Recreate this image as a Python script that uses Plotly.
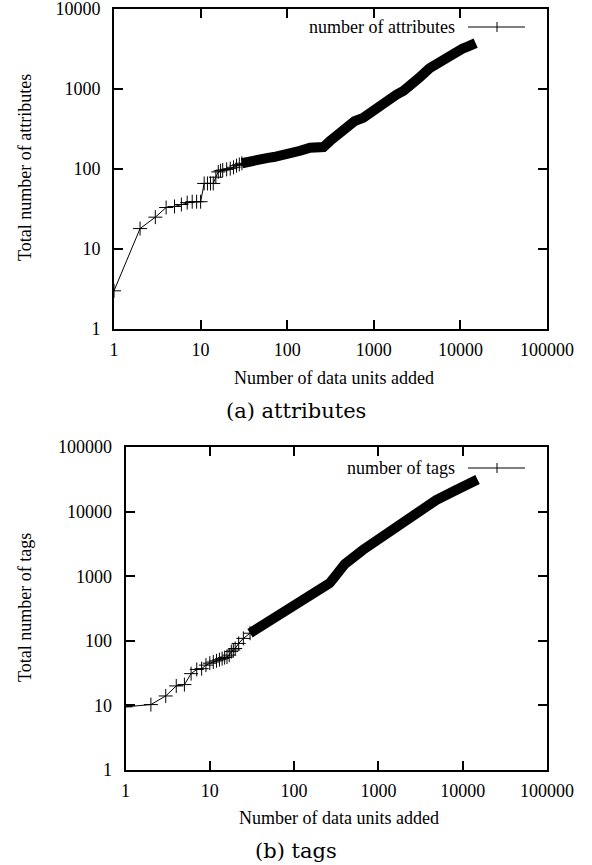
import plotly.graph_objects as go

# ---- data ----
attr_x = [1, 2, 3, 4, 5, 6, 7, 8, 9, 10, 11, 12, 13, 14, 15, 16, 17, 18, 20, 22, 24, 26, 28,
          30, 35, 40, 50, 60, 70, 83, 100, 141, 184, 262, 312, 400, 485, 600, 754, 950, 1172,
          1500, 1823, 2200, 2593, 3300, 4400, 5500, 6840, 8500, 10630, 12500, 14500, 15000]
attr_y = [3, 18, 25, 33, 34, 36, 38, 39, 39, 39, 66, 66, 66, 66, 79, 92, 95, 97, 99, 101, 105, 110, 114,
          118, 124, 130, 135, 138, 141, 146, 157, 169, 185, 188, 224, 284, 344, 397, 436, 528, 637,
          750, 848, 950, 1077, 1364, 1815, 2135, 2535, 2840, 3213, 3430, 3700, 3750]

tags_x = [1, 2, 3, 4, 5, 6, 7, 8, 9, 10, 11, 12, 13, 14, 15, 16, 17, 18, 19, 20, 22, 25,
          30, 40, 50, 67, 116, 200, 263, 300, 346, 400, 653, 1031, 2137, 2806, 4850, 8370, 13800, 15000]
tags_y = [9.5, 10.3, 14, 20, 21, 31, 36, 37, 42, 45, 47, 49, 51, 53, 55, 56, 60, 68, 72, 76, 91, 109,
          131, 165, 205, 266, 428, 649, 776, 960, 1280, 1545, 2545, 3864, 7200, 9500, 15100, 21600, 30800, 31500]

x_ticks = [1, 10, 100, 1000, 10000, 100000]
x_tick_text = ["1", "10", "100", "1000", "10000", "100000"]
attr_y_ticks = [1, 10, 100, 1000, 10000]
attr_y_text = ["1", "10", "100", "1000", "10000"]
tags_y_ticks = [1, 10, 100, 1000, 10000, 100000]
tags_y_text = ["1", "10", "100", "1000", "10000", "100000"]

attr_legend = "number of attributes"
tags_legend = "number of tags"
x_title = "Number of data units added"
attr_y_title = "Total number of attributes"
tags_y_title = "Total number of tags"
cap_a = "(a) attributes"
cap_b = "(b) tags"
dense_from = 30   # beyond this the markers merge into a solid band

W, H = 592, 865
SERIF = "Liberation Serif"
FONT = dict(family=SERIF, size=18, color="black")


def px(v):
    return v / W


def py(v):
    return 1 - v / H


fig = go.Figure()


def add_series(xs, ys, xa, ya):
    sx = [a for a in xs if a <= dense_from]
    sy = [b for a, b in zip(xs, ys) if a <= dense_from]
    fig.add_trace(go.Scatter(
        x=sx, y=sy, xaxis=xa, yaxis=ya, mode="lines+markers",
        line=dict(color="black", width=1),
        marker=dict(symbol="cross-thin", size=10, color="black",
                    line=dict(color="black", width=1)),
        showlegend=False, hoverinfo="x+y"))
    dx = [a for a in xs if a >= dense_from]
    dy = [b for a, b in zip(xs, ys) if a >= dense_from]
    fig.add_trace(go.Scatter(
        x=dx, y=dy, xaxis=xa, yaxis=ya, mode="lines",
        line=dict(color="black", width=10),
        showlegend=False, hoverinfo="x+y"))


add_series(attr_x, attr_y, "x", "y")
add_series(tags_x, tags_y, "x2", "y2")

axis_common = dict(type="log", showgrid=False, zeroline=False, showline=True,
                   linecolor="black", linewidth=2, mirror="ticks", ticks="inside",
                   ticklen=9, tickwidth=1.5, tickcolor="black", tickfont=FONT,
                   tickmode="array", automargin=False, fixedrange=True,
                   ticklabeloverflow="allow")

fig.update_layout(
    width=W, height=H, margin=dict(l=0, r=0, t=0, b=0, autoexpand=False),
    paper_bgcolor="white", plot_bgcolor="white",
    xaxis=dict(axis_common, domain=[px(114), px(547)], range=[0, 5], ticklabelstandoff=3,
               tickvals=x_ticks, ticktext=x_tick_text, anchor="y"),
    yaxis=dict(axis_common, domain=[py(329), py(9)], range=[0, 4], ticklabelstandoff=8,
               tickvals=attr_y_ticks, ticktext=attr_y_text, anchor="x"),
    xaxis2=dict(axis_common, domain=[px(125.5), px(547)], range=[0, 5], ticklabelstandoff=3,
                tickvals=x_ticks, ticktext=x_tick_text, anchor="y2"),
    yaxis2=dict(axis_common, domain=[py(770), py(447)], range=[0, 5], ticklabelstandoff=8,
                tickvals=tags_y_ticks, ticktext=tags_y_text, anchor="x2"),
)

ann = []
# axis titles
ann.append(dict(text=x_title, x=px((114 + 547) / 2 + 3), y=py(378), xref="paper", yref="paper",
                showarrow=False, font=FONT, xanchor="center", yanchor="middle"))
ann.append(dict(text=x_title, x=px((125.5 + 547) / 2 + 3), y=py(818), xref="paper", yref="paper",
                showarrow=False, font=FONT, xanchor="center", yanchor="middle"))
ann.append(dict(text=attr_y_title, x=px(25), y=py(168), xref="paper", yref="paper",
                showarrow=False, font=FONT, textangle=-90, xanchor="center", yanchor="middle"))
ann.append(dict(text=tags_y_title, x=px(25), y=py(608), xref="paper", yref="paper",
                showarrow=False, font=FONT, textangle=-90, xanchor="center", yanchor="middle"))
# captions
CAP = dict(family="DejaVu Serif", size=21, color="black")
ann.append(dict(text=cap_a, x=px(296), y=py(411), xref="paper", yref="paper",
                showarrow=False, font=CAP, xanchor="center", yanchor="middle"))
ann.append(dict(text=cap_b, x=px(296), y=py(851), xref="paper", yref="paper",
                showarrow=False, font=CAP, xanchor="center", yanchor="middle"))
# legend texts
ann.append(dict(text=attr_legend, x=px(457), y=py(27), xref="paper", yref="paper",
                showarrow=False, font=FONT, xanchor="right", yanchor="middle"))
ann.append(dict(text=tags_legend, x=px(457), y=py(468), xref="paper", yref="paper",
                showarrow=False, font=FONT, xanchor="right", yanchor="middle"))

shapes = []
for yy in (27, 468):
    shapes.append(dict(type="line", xref="paper", yref="paper", x0=px(468), x1=px(525),
                       y0=py(yy), y1=py(yy), line=dict(color="black", width=1)))
    shapes.append(dict(type="line", xref="paper", yref="paper", x0=px(497), x1=px(497),
                       y0=py(yy - 5), y1=py(yy + 5), line=dict(color="black", width=1)))

fig.update_layout(annotations=ann, shapes=shapes)

fig.write_html("out.html", config={"displayModeBar": False},
               post_script="document.body.style.margin='0px';document.body.style.overflow='hidden';")
